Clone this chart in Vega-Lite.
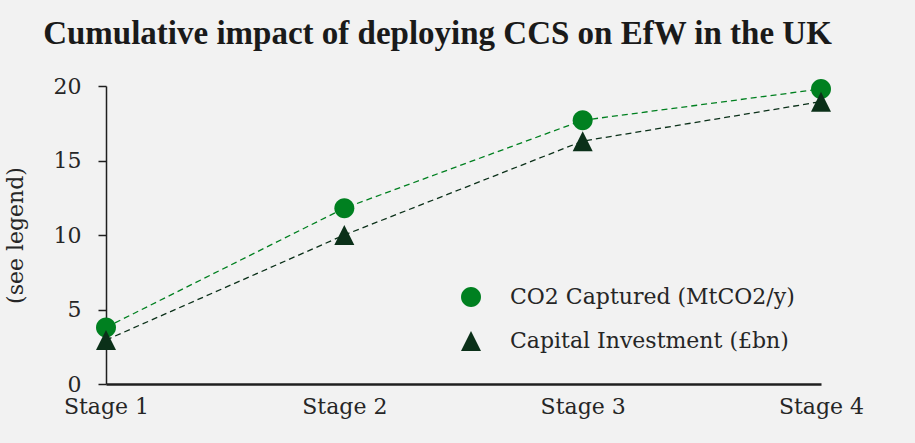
{
  "$schema": "https://vega.github.io/schema/vega-lite/v6.json",
  "width": 915,
  "height": 443,
  "autosize": {"type": "fit", "contains": "padding"},
  "padding": {"left": 4, "top": 18, "right": 51, "bottom": 26},
  "background": "#f2f2f2",
  "title": {
    "text": "Cumulative impact of deploying CCS on EfW in the UK",
    "font": "Liberation Serif",
    "fontWeight": "bold",
    "fontSize": 33,
    "color": "#1a1a1a",
    "anchor": "middle",
    "frame": "group",
    "dx": -26,
    "baseline": "bottom",
    "offset": -9
  },
  "data": {
    "values": [
      {"stage": "Stage 1", "series": "CO2 Captured (MtCO2/y)", "value": 3.8},
      {"stage": "Stage 2", "series": "CO2 Captured (MtCO2/y)", "value": 11.8},
      {"stage": "Stage 3", "series": "CO2 Captured (MtCO2/y)", "value": 17.7},
      {"stage": "Stage 4", "series": "CO2 Captured (MtCO2/y)", "value": 19.8},
      {"stage": "Stage 1", "series": "Capital Investment (£bn)", "value": 2.95},
      {"stage": "Stage 2", "series": "Capital Investment (£bn)", "value": 10.0},
      {"stage": "Stage 3", "series": "Capital Investment (£bn)", "value": 16.3},
      {"stage": "Stage 4", "series": "Capital Investment (£bn)", "value": 18.95}
    ]
  },
  "encoding": {
    "x": {
      "field": "stage",
      "type": "ordinal",
      "scale": {"type": "point", "padding": 0},
      "axis": {
        "title": null,
        "labelAngle": 0,
        "labelFont": "DejaVu Serif",
        "labelFontSize": 22,
        "labelColor": "#262626",
        "labelPadding": 12,
        "ticks": false,
        "domainColor": "#1f1f1f",
        "domainWidth": 2.5,
        "grid": false
      }
    },
    "y": {
      "field": "value",
      "type": "quantitative",
      "scale": {"domain": [0, 20], "nice": false},
      "axis": {
        "title": "(see legend)",
        "titleFont": "DejaVu Serif",
        "titleFontSize": 22,
        "titleFontWeight": "normal",
        "titleColor": "#262626",
        "titlePadding": 26,
        "values": [0, 5, 10, 15, 20],
        "labelFont": "DejaVu Serif",
        "labelFontSize": 22,
        "labelColor": "#262626",
        "labelPadding": 17,
        "tickSize": 8,
        "tickWidth": 1.5,
        "tickColor": "#1f1f1f",
        "domainColor": "#1f1f1f",
        "domainWidth": 1.5,
        "grid": false
      }
    },
    "color": {
      "field": "series",
      "type": "nominal",
      "scale": {
        "domain": ["CO2 Captured (MtCO2/y)", "Capital Investment (£bn)"],
        "range": ["#008020", "#0b3019"]
      },
      "legend": {
        "title": null,
        "orient": "none",
        "legendX": 354,
        "legendY": 200,
        "padding": 0,
        "labelFont": "DejaVu Serif",
        "labelFontSize": 22,
        "labelColor": "#262626",
        "labelLimit": 0,
        "labelOffset": 28,
        "rowPadding": 22,
        "symbolSize": 400,
        "symbolStrokeWidth": 0,
        "symbolOpacity": 1
      }
    }
  },
  "layer": [
    {
      "mark": {"type": "line", "strokeDash": [6, 4], "strokeWidth": 1.3}
    },
    {
      "mark": {"type": "point", "filled": true, "opacity": 1, "size": 400, "strokeWidth": 0},
      "encoding": {
        "shape": {
          "field": "series",
          "type": "nominal",
          "scale": {
            "domain": ["CO2 Captured (MtCO2/y)", "Capital Investment (£bn)"],
            "range": ["M-1,0A1,1 0 1,0 1,0A1,1 0 1,0 -1,0Z", "M0,-1L1,1L-1,1Z"]
          },
          "legend": {
            "title": null,
            "orient": "none",
            "legendX": 354,
            "legendY": 200,
            "padding": 0,
            "labelFont": "DejaVu Serif",
            "labelFontSize": 22,
            "labelColor": "#262626",
            "labelLimit": 0,
            "labelOffset": 28,
            "rowPadding": 22,
            "symbolSize": 400,
            "symbolStrokeWidth": 0,
            "symbolOpacity": 1
          }
        }
      }
    }
  ],
  "config": {
    "view": {"stroke": null}
  }
}
